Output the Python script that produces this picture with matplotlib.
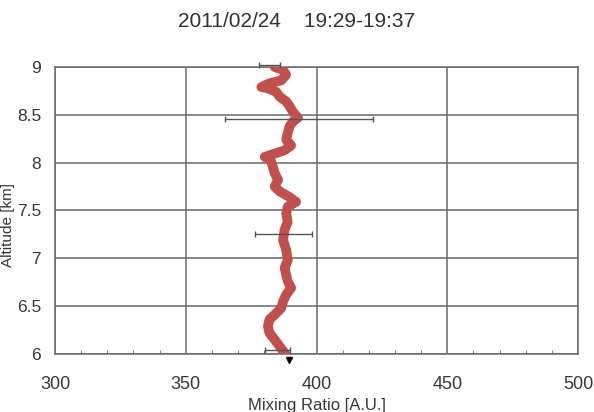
import numpy as np
import matplotlib
matplotlib.use('Agg')
import matplotlib.pyplot as plt
from matplotlib.ticker import MultipleLocator

plt.rcParams['font.family'] = ['Liberation Sans', 'DejaVu Sans']

# perfil (altitude em km, razao de mistura)
altitude = [9.00, 8.97, 8.92, 8.86, 8.83, 8.79, 8.78, 8.74, 8.69, 8.64,
            8.59, 8.53, 8.47, 8.43, 8.38, 8.31, 8.24, 8.18, 8.13, 8.10,
            8.06, 8.02, 7.96, 7.89, 7.82, 7.75, 7.70, 7.64, 7.59, 7.54,
            7.47, 7.38, 7.30, 7.19, 7.09, 6.98, 6.90, 6.83, 6.76, 6.69,
            6.62, 6.55, 6.48, 6.41, 6.36, 6.29, 6.22, 6.15, 6.08, 6.01, 5.96]
mixing = [384.0, 387.1, 388.4, 386.5, 382.0, 378.9, 381.0, 384.6, 385.9, 388.4,
          389.7, 391.0, 392.9, 391.0, 389.7, 389.0, 388.4, 390.3, 387.8, 384.6,
          380.2, 382.5, 383.3, 384.0, 385.3, 384.0, 385.9, 389.7, 392.2, 389.0,
          388.4, 389.0, 387.8, 387.2, 388.4, 389.0, 387.8, 388.4, 389.0, 390.3,
          388.4, 387.2, 386.5, 384.0, 382.0, 381.4, 382.0, 384.0, 385.9, 387.8, 389.0]

# barras de erro
err_alt = [9.02, 8.46, 7.25, 6.04]
err_x = [382.0, 393.2, 387.3, 385.0]
err_w = [4.0, 28.3, 11.0, 4.8]

fig = plt.figure(figsize=(5.94, 4.12), dpi=100)
ax = fig.add_axes([0.0926, 0.1408, 0.8805, 0.6966])

ax.plot(mixing, altitude, color='#C0504D', linewidth=7,
        solid_capstyle='round', solid_joinstyle='round', zorder=3)
ax.plot(mixing[-1] + 0.6, altitude[-1] - 0.02, marker='v', color='black',
        markersize=4, clip_on=False, zorder=4)

ax.errorbar(err_x, err_alt, xerr=err_w, fmt='none', ecolor='#555555',
            elinewidth=1.0, capsize=2.5, capthick=1.0, clip_on=False, zorder=4)

ax.set_xlim(300, 500)
ax.set_ylim(6, 9)
ax.xaxis.set_major_locator(MultipleLocator(50))
ax.xaxis.set_minor_locator(MultipleLocator(10))
ax.set_yticks([6, 6.5, 7, 7.5, 8, 8.5, 9])
ax.set_yticklabels(['6', '6.5', '7', '7.5', '8', '8.5', '9'])

ax.grid(True, which='major', color='#6a6a6a', linewidth=1.1)
ax.set_axisbelow(True)
for s in ax.spines.values():
    s.set_color('#6a6a6a')
    s.set_linewidth(1.1)

ax.tick_params(axis='x', which='major', length=0, pad=16, labelsize=13, labelcolor='#383838')
ax.tick_params(axis='x', which='minor', direction='in', length=3, color='#6a6a6a')
ax.tick_params(axis='y', which='major', length=0, pad=10, labelsize=12.5, labelcolor='#383838')

ax.set_xlabel('Mixing Ratio [A.U.]', fontsize=12, color='#383838')
ax.xaxis.set_label_coords(0.5, -0.178)
ax.xaxis.label.set_va('center')
ax.set_ylabel('Altitude [km]', fontsize=11, color='#383838')
ax.yaxis.set_label_coords(-0.09, 0.45)
ax.yaxis.label.set_va('center')

fig.suptitle('2011/02/24    19:29-19:37', fontsize=15, color='#333333', y=0.947, va='center')

plt.savefig('out.png', dpi=100)
